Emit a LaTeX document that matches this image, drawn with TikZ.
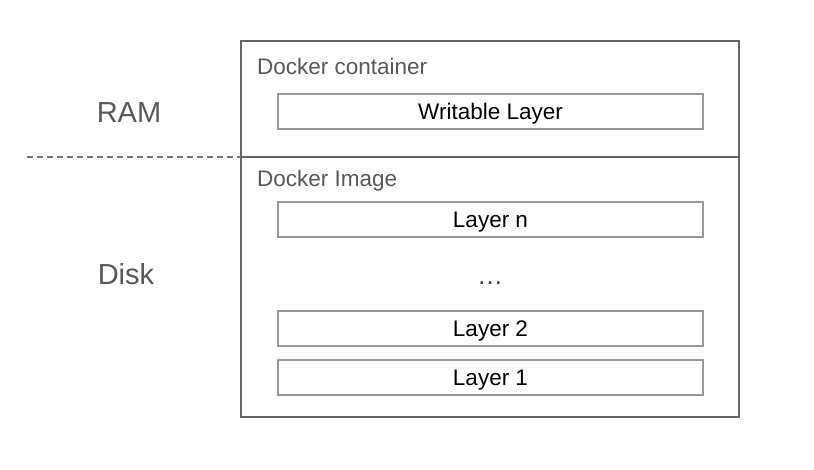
\documentclass[tikz,border=0pt]{standalone}
\usepackage{fontspec}
\setmainfont{Liberation Sans}
\begin{document}
\begin{tikzpicture}[x=1pt,y=-1pt,
  outerline/.style={draw=black!60,line width=1.2pt},
  layerbox/.style={draw=black!40,line width=1.2pt,minimum width=425pt,minimum height=35pt,inner sep=0pt,
    font=\fontsize{22.5}{27}\selectfont,text=black,text height=16pt,text depth=0pt},
  grouplabel/.style={anchor=base west,inner sep=0pt,text=black!65,font=\fontsize{22.5}{27}\selectfont},
  memlabel/.style={anchor=base,inner sep=0pt,text=black!65,font=\fontsize{29}{34}\selectfont}]
\useasboundingbox (0,0) rectangle (814,470);
\fill[white] (0,0) rectangle (814,470);
% outer box
\node[outerline,minimum width=498pt,minimum height=376pt,inner sep=0pt] (outer) at (490,229) {};
\coordinate (divL) at (241,157);
\coordinate (divR) at (739,157);
\coordinate (dashL) at (27,157);
\draw[draw=black!60,line width=1.2pt] (divL) -- (divR);
\draw[draw=black!55,line width=1.2pt,dash pattern=on 6pt off 4pt] (dashL) -- (divL);
% labels
\node[grouplabel] (cont) at (257,75) {Docker container};
\node[grouplabel] (img) at (257,187) {Docker Image};
\node[memlabel] (ram) at (129,122.5) {RAM};
\node[memlabel] (disk) at (126,284.5) {Disk};
% layers
\node[layerbox] (writable) at (490.5,111.5) {Writable Layer};
\node[layerbox] (layern) at (490.5,219.5) {Layer n};
\node[anchor=base,inner sep=0pt,font=\fontsize{26}{30}\selectfont,text=black!75] (dots) at (490,285) {\ldots};
\node[layerbox] (layer2) at (490.5,328.5) {Layer 2};
\node[layerbox] (layer1) at (490.5,377.5) {Layer 1};
\end{tikzpicture}
\end{document}
